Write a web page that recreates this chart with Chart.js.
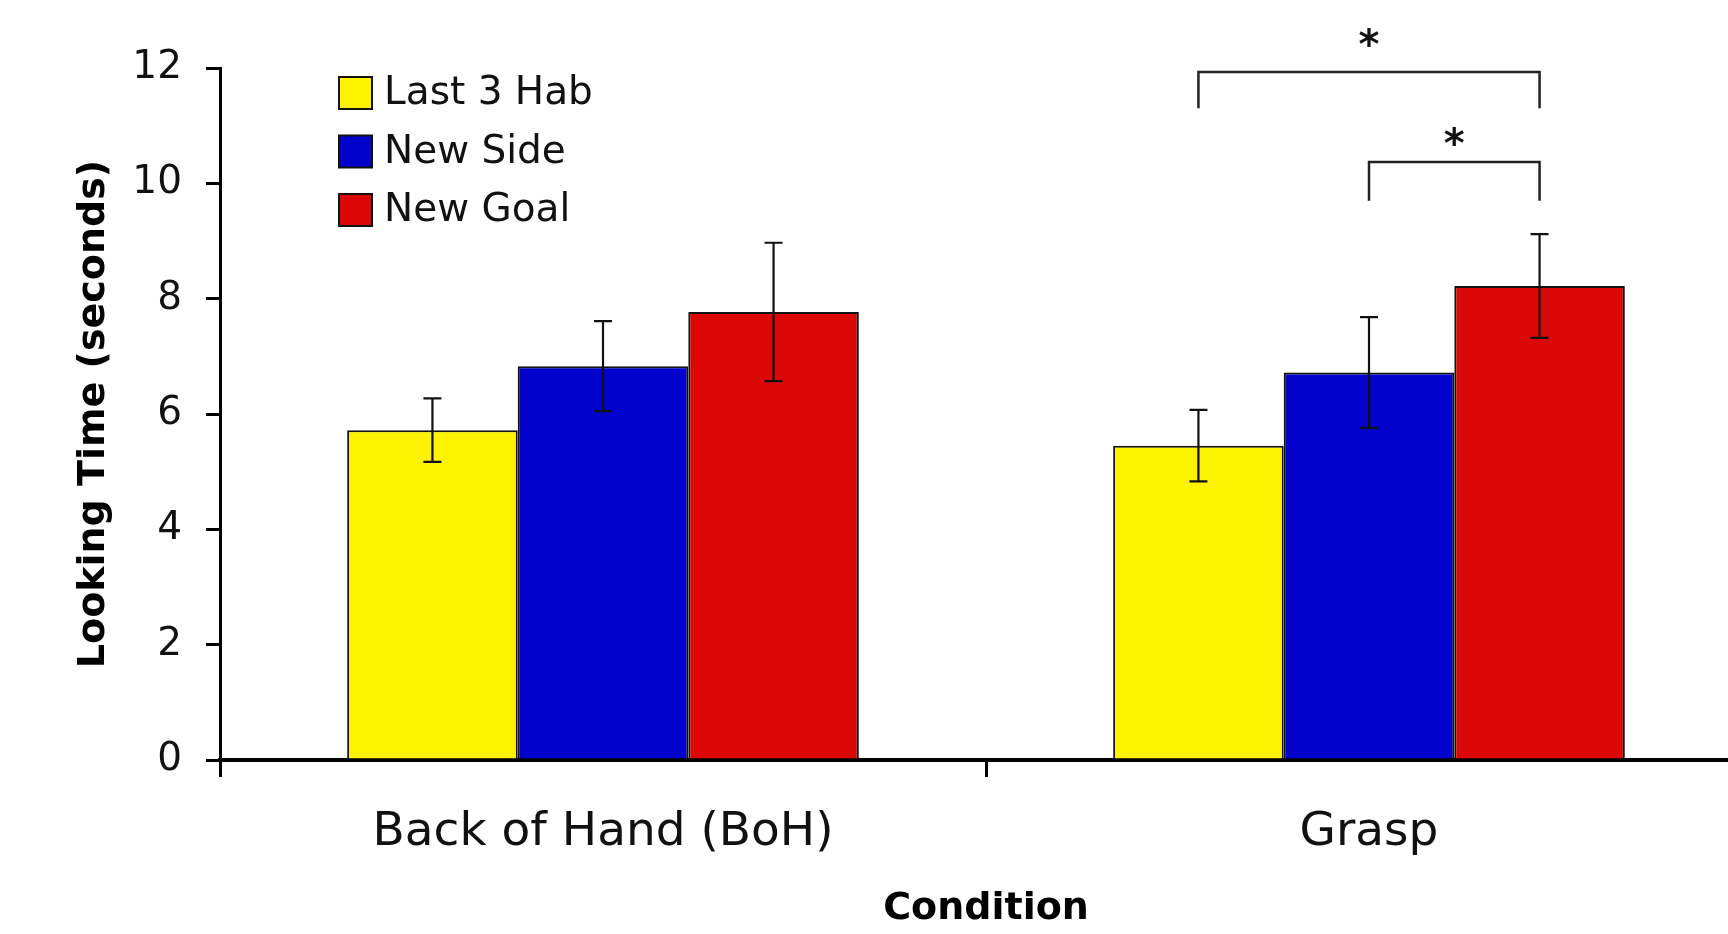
<!DOCTYPE html>
<html>
<head>
<meta charset="utf-8">
<title>Looking Time by Condition</title>
<script src="https://cdn.jsdelivr.net/npm/chart.js@4.4.1/dist/chart.umd.min.js"></script>
<style>
    html, body { margin: 0; padding: 0; background: #ffffff; overflow: hidden; }
    canvas { display: block; }
</style>
</head>
<body>
<canvas id="lookingChart" width="1752" height="934"></canvas>
<script>
// chart data
var categories = ['Back of Hand (BoH)', 'Grasp'];
var seriesNames = ['Last 3 Hab', 'New Side', 'New Goal'];
var last3Hab = [5.72, 5.45];
var newSide = [6.83, 6.72];
var newGoal = [7.77, 8.22];
var last3HabErr = [0.55, 0.62];
var newSideErr = [0.78, 0.96];
var newGoalErr = [1.2, 0.9];
var yTicks = [0, 2, 4, 6, 8, 10, 12];

// significance brackets (levels in seconds)
var sigGroup = [1, 1];
var sigFrom = [0, 1];
var sigTo = [2, 2];
var sigTop = [11.93, 10.37];
var sigLegEnd = [11.3, 9.7];
var sigStar = [12.53, 10.82];

var seriesColors = ['#fdf200', '#0202cc', '#dc0707'];
var fontFamily = 'DejaVu Sans';

Chart.defaults.font.family = fontFamily;
Chart.defaults.color = '#111';

// error bars drawn from each dataset's errors array
var errorBarPlugin = {
    id: 'errorBars',
    afterDatasetsDraw: function (chart) {
        var ctx = chart.ctx;
        var y = chart.scales.y;
        ctx.save();
        ctx.strokeStyle = '#111';
        ctx.lineWidth = 2.2;
        chart.data.datasets.forEach(function (ds, i) {
            chart.getDatasetMeta(i).data.forEach(function (bar, j) {
                var top = y.getPixelForValue(ds.data[j] + ds.errors[j]);
                var bot = y.getPixelForValue(ds.data[j] - ds.errors[j]);
                ctx.beginPath();
                ctx.moveTo(bar.x, top);
                ctx.lineTo(bar.x, bot);
                ctx.moveTo(bar.x - 9, top);
                ctx.lineTo(bar.x + 9, top);
                ctx.moveTo(bar.x - 9, bot);
                ctx.lineTo(bar.x + 9, bot);
                ctx.stroke();
            });
        });
        ctx.restore();
    }
};

// brackets with stars above the Grasp bars
var bracketPlugin = {
    id: 'brackets',
    afterDraw: function (chart) {
        var ctx = chart.ctx;
        var y = chart.scales.y;
        ctx.save();
        ctx.strokeStyle = '#222';
        ctx.lineWidth = 2.5;
        ctx.fillStyle = '#111';
        ctx.font = 'bold 40px ' + fontFamily;
        ctx.textAlign = 'center';
        ctx.textBaseline = 'alphabetic';
        for (var k = 0; k < sigTop.length; k++) {
            var x1 = chart.getDatasetMeta(sigFrom[k]).data[sigGroup[k]].x;
            var x2 = chart.getDatasetMeta(sigTo[k]).data[sigGroup[k]].x;
            var yTop = y.getPixelForValue(sigTop[k]);
            var yLeg = y.getPixelForValue(sigLegEnd[k]);
            ctx.beginPath();
            ctx.moveTo(x1, yLeg);
            ctx.lineTo(x1, yTop);
            ctx.lineTo(x2, yTop);
            ctx.lineTo(x2, yLeg);
            ctx.stroke();
            ctx.fillText('*', (x1 + x2) / 2, y.getPixelForValue(sigStar[k]) + 21);
        }
        ctx.restore();
    }
};

// legend in the top-left corner of the plot
var legendPlugin = {
    id: 'cornerLegend',
    afterDraw: function (chart) {
        var ctx = chart.ctx;
        ctx.save();
        ctx.font = '39px ' + fontFamily;
        ctx.textBaseline = 'middle';
        ctx.textAlign = 'left';
        chart.data.datasets.forEach(function (ds, i) {
            var top = 77 + i * 58.5;
            ctx.fillStyle = ds.backgroundColor;
            ctx.fillRect(339, top, 33, 32);
            ctx.strokeStyle = '#111';
            ctx.lineWidth = 2;
            ctx.strokeRect(339, top, 33, 32);
            ctx.fillStyle = '#111';
            ctx.fillText(ds.label, 384, top + 17);
        });
        ctx.restore();
    }
};

var ctx = document.getElementById('lookingChart').getContext('2d');

var lookingChart = new Chart(ctx, {
    type: 'bar',
    data: {
        labels: categories,
        datasets: [{
            label: seriesNames[0],
            data: last3Hab,
            errors: last3HabErr,
            backgroundColor: seriesColors[0]
        },
        {
            label: seriesNames[1],
            data: newSide,
            errors: newSideErr,
            backgroundColor: seriesColors[1]
        },
        {
            label: seriesNames[2],
            data: newGoal,
            errors: newGoalErr,
            backgroundColor: seriesColors[2]
        }]
    },
    options: {
        responsive: false,
        animation: false,
        layout: {
            padding: { top: 68, left: 0, right: 0, bottom: 0 }
        },
        datasets: {
            bar: {
                barPercentage: 1,
                categoryPercentage: 0.668,
                borderWidth: 2,
                borderColor: '#111'
            }
        },
        plugins: {
            legend: { display: false },
            tooltip: { enabled: false }
        },
        scales: {
            x: {
                grid: {
                    display: true,
                    drawOnChartArea: false,
                    offset: true,
                    tickLength: 17,
                    lineWidth: 3,
                    color: '#000'
                },
                border: { display: true, color: '#000', width: 4 },
                ticks: {
                    font: { size: 47 },
                    color: '#111',
                    padding: 28
                },
                title: {
                    display: true,
                    text: 'Condition',
                    font: { size: 38, weight: 'bold', lineHeight: 1.2 },
                    color: '#000',
                    padding: { top: 0, bottom: 2 }
                },
                afterFit: function (scale) { scale.height = 174; }
            },
            y: {
                min: 0,
                max: 12,
                afterBuildTicks: function (scale) {
                    scale.ticks = yTicks.map(function (v) { return { value: v }; });
                },
                grid: {
                    drawOnChartArea: false,
                    tickLength: 14,
                    lineWidth: 3,
                    color: '#000'
                },
                border: { display: true, color: '#000', width: 3 },
                ticks: {
                    font: { size: 39 },
                    color: '#111',
                    padding: 24
                },
                title: {
                    display: true,
                    text: 'Looking Time (seconds)',
                    font: { size: 38, weight: 'bold', lineHeight: 1.2 },
                    color: '#000',
                    padding: { top: 71, bottom: 0 }
                },
                afterFit: function (scale) { scale.width = 220; }
            }
        }
    },
    plugins: [errorBarPlugin, bracketPlugin, legendPlugin]
});
</script>
</body>
</html>
